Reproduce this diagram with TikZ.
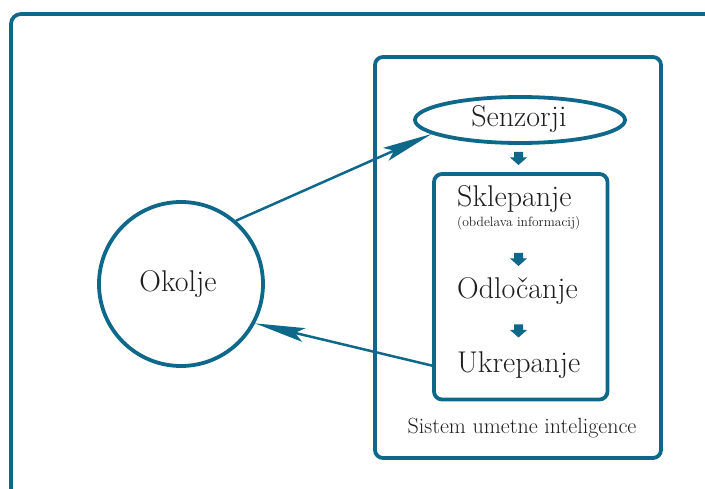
\documentclass[tikz,border=0pt]{standalone}
\usetikzlibrary{arrows.meta,shapes.geometric}
\definecolor{teal1}{RGB}{14,104,138}
\definecolor{txt}{RGB}{30,30,30}
\begin{document}
\begin{tikzpicture}[x=1pt,y=-1pt,
 frame/.style={draw=teal1,line width=3.8pt,rounded corners=8pt,inner sep=0pt},
 lbl/.style={text=txt,inner sep=0pt},
 big/.style={lbl,font=\fontsize{30}{33}\selectfont},
 conn/.style={draw=teal1,line width=2.5pt,-{Stealth[length=50pt,width=14pt,inset=9pt]}},
 dnarrow/.pic={\fill[teal1] (-4.5,-6.5) -- (4.5,-6.5) -- (4.5,-1) -- (8.5,-1) -- (0,6.5) -- (-8.5,-1) -- (-4.5,-1) -- cycle;}
 ]
\useasboundingbox (0,0) rectangle (705,489);
\begin{scope}
\clip (0,0) rectangle (705,489);
\draw[draw=teal1,line width=3.8pt,rounded corners=10pt] (11,14) rectangle (740,520);
\end{scope}
% system box
\node[frame,minimum width=286pt,minimum height=401pt] (sys) at (518,257.5) {};
% inner box
\node[frame,minimum width=173.5pt,minimum height=225.5pt] (inner) at (520.75,286.75) {};
% sensors ellipse
\node[ellipse,draw=teal1,line width=3.8pt,minimum width=210pt,minimum height=46pt,inner sep=0pt] (sen) at (520,120) {};
\node[big,anchor=base] (sentxt) at (519,127) {Senzorji};
% texts
\node[big,anchor=base west] (skl) at (457,207) {Sklepanje};
\node[lbl,anchor=base west,font=\fontsize{13.5}{15}\selectfont] (obd) at (457,227) {(obdelava informacij)};
\node[big,anchor=base west] (odl) at (457,299) {Odločanje};
\node[big,anchor=base west] (act) at (457,373) {Ukrepanje};
\node[lbl,anchor=base,font=\fontsize{22}{25}\selectfont] (sui) at (522,433) {Sistem umetne inteligence};
% environment
\node[circle,draw=teal1,line width=3.8pt,minimum size=164pt,inner sep=0pt] (env) at (181,284) {};
\node[big,anchor=base] (envtxt) at (178,292) {Okolje};
% block arrows
\pic at (518.5,158.5) {dnarrow};
\pic at (518.5,259.5) {dnarrow};
\pic at (518.5,331) {dnarrow};
% connectors
\draw[conn] (env.49) -- (sen.189);
\draw[conn] (inner.west |- act.center) -- (env.-28);
\end{tikzpicture}
\end{document}
